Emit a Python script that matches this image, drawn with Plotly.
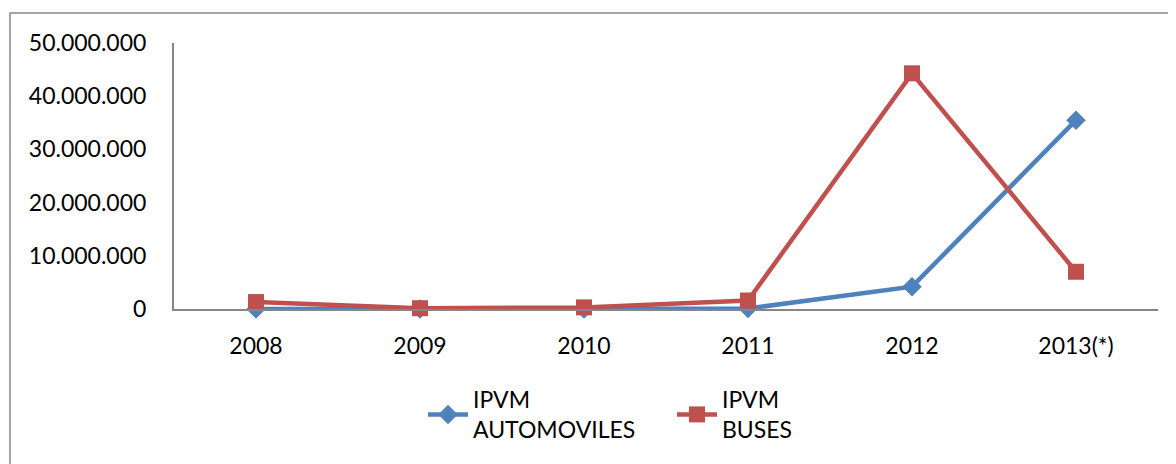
import plotly.graph_objects as go

categories = ["2008", "2009", "2010", "2011", "2012", "2013(*)"]
automoviles = [0, 0, 0, 100000, 4200000, 35500000]
buses = [1300000, 150000, 300000, 1600000, 44300000, 7000000]
tick_vals = [0, 10000000, 20000000, 30000000, 40000000, 50000000]
tick_text = ["0", "10.000.000", "20.000.000", "30.000.000", "40.000.000", "50.000.000"]

BLUE = "#4F81BD"
RED = "#C0504D"
FONT = "Lato, Open Sans, sans-serif"

fig = go.Figure()
fig.add_trace(go.Scatter(
    x=categories, y=automoviles, mode="lines+markers",
    name="IPVM<br>AUTOMOVILES",
    line=dict(color=BLUE, width=4.5),
    marker=dict(symbol="diamond", size=15, color=BLUE),
    cliponaxis=False,
))
fig.add_trace(go.Scatter(
    x=categories, y=buses, mode="lines+markers",
    name="IPVM<br>BUSES",
    line=dict(color=RED, width=4.5),
    marker=dict(symbol="square", size=16, color=RED),
    cliponaxis=False,
))

W, H = 1176, 464
L, T = 166, 35
R = W - 1150
B = H - 301
pw, ph = W - L - R, H - T - B

fig.update_layout(
    width=W, height=H,
    margin=dict(l=L, r=R, t=T, b=B, autoexpand=False),
    paper_bgcolor="white", plot_bgcolor="white",
    font=dict(family=FONT, size=23, color="#000000"),
    showlegend=True,
    legend=dict(
        orientation="h", xref="container", yref="container",
        x=415 / W, y=1 - 370 / H, xanchor="left", yanchor="top",
        font=dict(size=23), itemwidth=40, entrywidth=194, entrywidthmode="pixels",
        traceorder="normal", bgcolor="rgba(0,0,0,0)",
    ),
    xaxis=dict(
        type="category", range=[-0.5, 5.5], automargin=False,
        showline=True, linecolor="#868686", linewidth=2,
        showgrid=False, ticks="", ticklabelstandoff=15,
        zeroline=False, fixedrange=True,
    ),
    yaxis=dict(
        range=[0, 50000000], tickvals=tick_vals, ticktext=tick_text, automargin=False,
        showline=True, linecolor="#868686", linewidth=2,
        showgrid=False, ticks="", ticklabelstandoff=21,
        zeroline=False, fixedrange=True,
    ),
    shapes=[dict(
        type="rect", xref="paper", yref="paper",
        x0=(2 - L) / pw, x1=(W + 20 - L) / pw,
        y0=-(H + 20 - (T + ph)) / ph, y1=((T + ph) - 5) / ph,
        line=dict(color="#868686", width=1.5), fillcolor="rgba(0,0,0,0)",
        layer="below",
    )],
)

fig.write_html("out.html")
